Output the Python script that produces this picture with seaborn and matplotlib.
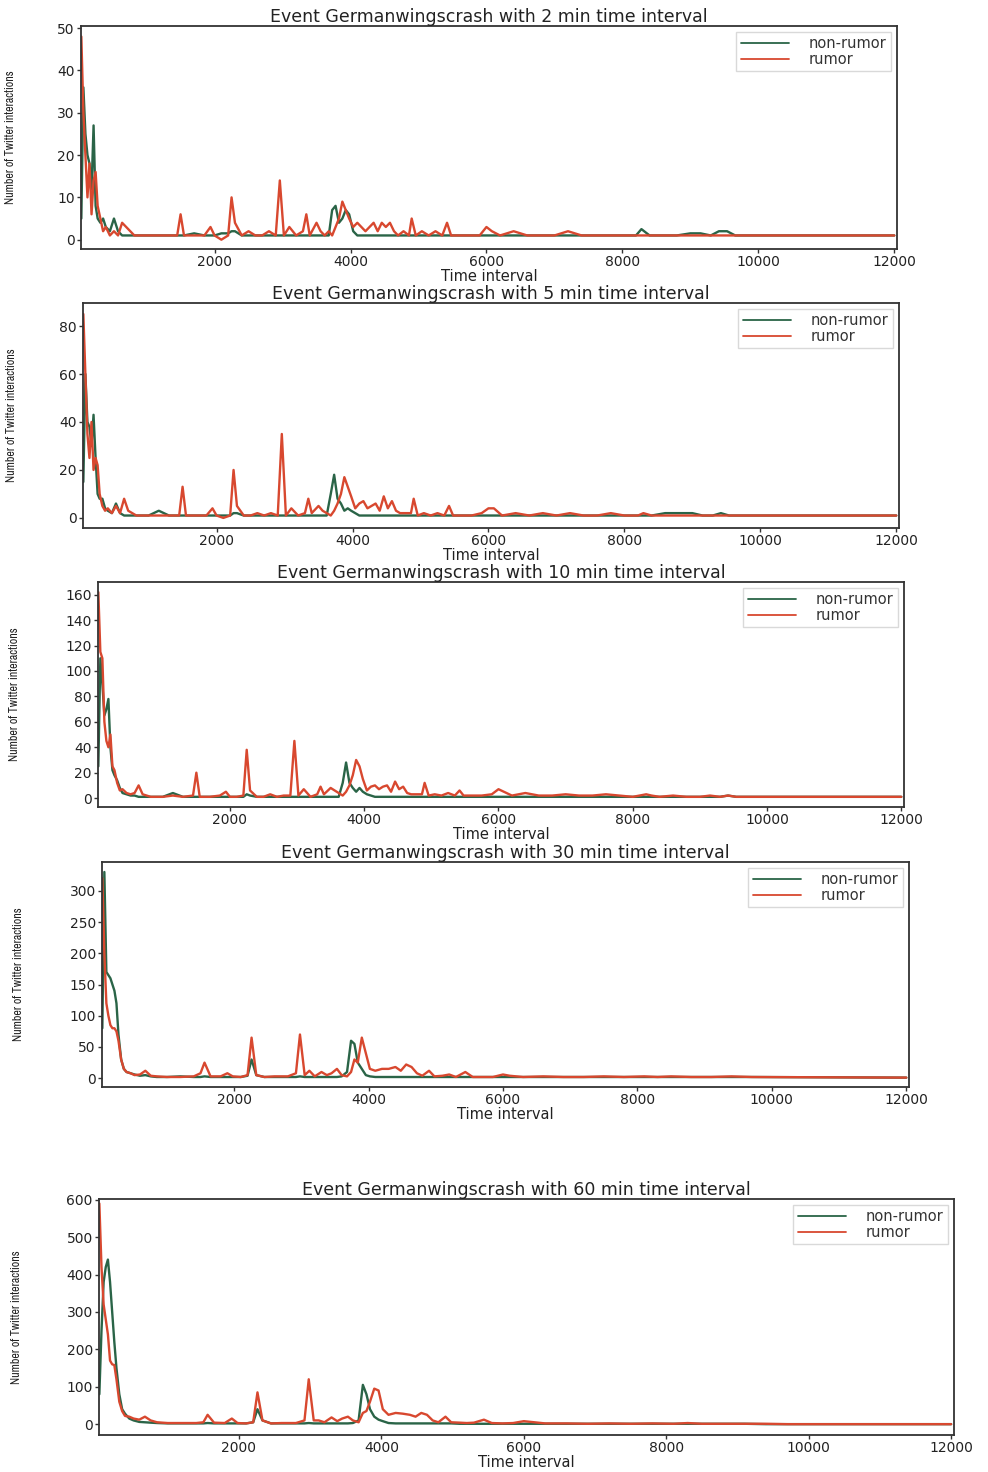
import matplotlib
matplotlib.use("Agg")
import matplotlib.pyplot as plt
import seaborn as sns
import pandas as pd
from matplotlib import font_manager

# ---------------- data ----------------
intervals = [2, 5, 10, 30, 60]
series_names = ["non-rumor", "rumor"]
xtick_values = [2000, 4000, 6000, 8000, 10000, 12000]

# sample grid for the 2 / 5 / 10 minute panels
t_fine = [40, 70, 100, 130, 160, 190, 220, 250, 280, 320, 360, 400,
          460, 520, 580, 640, 700, 760, 820, 900, 1000,
          1150, 1300, 1450, 1500, 1550, 1700, 1850, 1940, 2000,
          2100, 2200, 2250, 2300, 2400, 2500, 2600, 2700, 2800, 2900, 2960, 3020,
          3100, 3200, 3300, 3350, 3400, 3500, 3560, 3620, 3680, 3730, 3780, 3830, 3880, 3930, 3980,
          4040, 4100, 4160, 4220, 4280, 4340, 4400, 4460, 4520, 4580, 4640, 4700, 4780, 4860, 4900, 4960,
          5050, 5150, 5250, 5350, 5420, 5480, 5600, 5750, 5900, 6000, 6080,
          6200, 6400, 6600, 6800, 7000, 7200, 7400, 7600, 7800, 8000, 8200, 8280, 8400, 8600, 8800,
          9000, 9150, 9300, 9420, 9540, 9660, 12000]

rumor_2 = [48, 30, 20, 10, 18, 6, 14, 16, 8, 5, 2, 3,
           1, 2, 1, 4, 3, 2, 1, 1, 1,
           1, 1, 1, 6, 1, 1, 1, 3, 1,
           0, 1, 10, 4, 1, 2, 1, 1, 2, 1, 14, 1,
           3, 1, 2, 6, 1, 4, 2, 1, 2, 1, 3, 5, 9, 7, 5,
           3, 4, 3, 2, 3, 4, 2, 4, 3, 4, 2, 1, 2, 1, 5, 1,
           2, 1, 2, 1, 4, 1, 1, 1, 1, 3, 2,
           1, 2, 1, 1, 1, 2, 1, 1, 1, 1, 1, 1, 1, 1, 1,
           1, 1, 1, 1, 1, 1, 1]
nonrumor_2 = [5, 36, 25, 20, 18, 12, 27, 8, 5, 4, 5, 3,
              2, 5, 2, 1, 1, 1, 1, 1, 1,
              1, 1, 1, 1, 1, 1.5, 1, 1, 1,
              1.5, 1.5, 2, 2, 1, 1, 1, 1, 1, 1, 1, 1,
              1, 1, 1, 1, 1, 1, 1, 1, 1, 7, 8, 4, 5, 7, 6,
              2, 1, 1, 1, 1, 1, 1, 1, 1, 1, 1, 1, 1, 1, 1, 1,
              1, 1, 1, 1, 1, 1, 1, 1, 1, 1, 1,
              1, 1, 1, 1, 1, 1, 1, 1, 1, 1, 1, 2.5, 1, 1, 1,
              1.5, 1.5, 1, 2, 2, 1, 1]

rumor_5 = [85, 60, 35, 25, 40, 20, 25, 22, 10, 5, 3, 4,
           2, 5, 2, 8, 3, 2, 1, 1, 1,
           1, 1, 1, 13, 1, 1, 1, 4, 1,
           0, 1, 20, 5, 1, 1, 2, 1, 2, 1, 35, 1,
           4, 1, 2, 8, 2, 5, 3, 2, 1, 3, 6, 10, 17, 13, 9,
           4, 6, 7, 4, 5, 6, 3, 9, 4, 7, 3, 2, 2, 2, 8, 1,
           2, 1, 2, 1, 5, 1, 1, 1, 2, 4, 4,
           1, 2, 1, 2, 1, 2, 1, 1, 2, 1, 1, 2, 1, 1, 1,
           1, 1, 1, 1, 1, 1, 1]
nonrumor_5 = [15, 60, 40, 38, 30, 43, 25, 10, 8, 8, 4, 3,
              2, 6, 2, 1, 1, 1, 1, 1, 1,
              3, 1, 1, 1, 1, 1, 1, 1, 1,
              1, 1, 2, 2, 1, 1, 1, 1, 1, 1, 1, 1,
              1, 1, 1, 1, 1, 1, 1, 1, 10, 18, 8, 6, 3, 4, 3,
              2, 1, 1, 1, 1, 1, 1, 1, 1, 1, 1, 1, 1, 1, 1, 1,
              1, 1, 1, 1, 1, 1, 1, 1, 1, 1, 1,
              1, 1, 1, 1, 1, 1, 1, 1, 1, 1, 1, 1, 1, 2, 2,
              2, 1, 1, 2, 1, 1, 1]

rumor_10 = [162, 115, 110, 60, 45, 40, 50, 25, 22, 12, 6, 7,
            4, 3, 4, 10, 3, 2, 1, 1, 1,
            2, 1, 2, 20, 1, 1, 2, 5, 1,
            1, 2, 38, 6, 1, 1, 3, 1, 2, 2, 45, 2,
            7, 1, 3, 9, 3, 8, 6, 4, 2, 5, 10, 18, 30, 25, 15,
            6, 9, 10, 7, 9, 10, 5, 13, 7, 9, 4, 3, 3, 3, 12, 2,
            3, 2, 4, 2, 6, 2, 2, 2, 3, 7, 5,
            2, 4, 2, 2, 3, 2, 2, 3, 2, 1, 3, 2, 1, 2, 1,
            1, 2, 1, 2, 1, 1, 1]
nonrumor_10 = [25, 110, 90, 65, 70, 78, 40, 22, 18, 14, 8, 4,
               3, 2, 2, 1, 1, 1, 1, 1, 1,
               4, 1, 1, 1, 1, 1, 1, 1, 1,
               1, 1, 3, 2, 1, 1, 1, 1, 1, 1, 1, 1,
               1, 1, 1, 1, 1, 1, 1, 1, 12, 28, 12, 8, 5, 8, 5,
               3, 2, 1, 1, 1, 1, 1, 1, 1, 1, 1, 1, 1, 1, 1, 1,
               1, 1, 1, 1, 1, 1, 1, 1, 1, 1, 1,
               1, 1, 1, 1, 1, 1, 1, 1, 1, 1, 1, 1, 1, 1, 1,
               1, 1, 1, 2, 1, 1, 1]

# sample grid for the 30 / 60 minute panels
t_coarse = [40, 70, 100, 130, 160, 190, 220, 250, 280, 320, 360, 400,
            460, 520, 600, 680, 760, 850, 1000, 1200, 1400,
            1500, 1560, 1650, 1800, 1900, 1980, 2100, 2200, 2260, 2330, 2450,
            2600, 2800, 2920, 2980, 3050, 3120, 3200, 3300, 3380, 3450, 3530, 3600, 3680,
            3740, 3790, 3840, 3900, 3960, 4020, 4100, 4200, 4300, 4400, 4480, 4560, 4640, 4720, 4800,
            4900, 4980, 5100, 5200, 5300, 5440, 5550, 5700, 5850, 6000, 6100,
            6300, 6600, 6900, 7200, 7500, 7800, 8100, 8300, 8500, 8800, 9100, 9400, 9700, 12000]

rumor_30 = [320, 200, 120, 100, 85, 80, 80, 75, 60, 30, 15, 10,
            8, 5, 6, 12, 4, 3, 2, 2, 3,
            8, 25, 3, 3, 8, 3, 2, 5, 65, 5, 2,
            3, 3, 8, 70, 5, 12, 3, 10, 5, 8, 15, 5, 3,
            10, 30, 25, 65, 40, 15, 12, 15, 15, 18, 12, 22, 18, 8, 4,
            12, 3, 4, 6, 2, 10, 2, 2, 2, 6, 4,
            2, 3, 2, 2, 3, 2, 3, 2, 3, 2, 2, 3, 2, 1]
nonrumor_30 = [80, 330, 170, 165, 160, 150, 140, 120, 70, 30, 15, 10,
               8, 6, 4, 5, 3, 2, 2, 3, 2,
               2, 3, 2, 2, 2, 2, 2, 4, 30, 5, 2,
               2, 2, 2, 3, 2, 2, 2, 2, 2, 2, 2, 3, 10,
               60, 55, 25, 15, 5, 3, 2, 2, 2, 2, 2, 2, 2, 2, 2,
               2, 2, 2, 2, 2, 2, 2, 2, 2, 2, 2,
               2, 2, 2, 2, 2, 2, 2, 2, 2, 2, 2, 2, 2, 1]

rumor_60 = [590, 420, 320, 280, 240, 170, 160, 158, 120, 60, 35, 22,
            20, 15, 12, 20, 10, 5, 3, 3, 3,
            5, 25, 4, 3, 15, 3, 2, 5, 85, 10, 2,
            3, 3, 10, 120, 10, 10, 5, 18, 8, 15, 20, 10, 5,
            30, 35, 60, 95, 90, 40, 25, 30, 28, 25, 20, 30, 25, 10, 5,
            20, 5, 4, 3, 4, 12, 3, 2, 3, 8, 6,
            2, 2, 1, 2, 1, 2, 1, 3, 1, 1, 1, 1, 0, 0]
nonrumor_60 = [80, 250, 380, 420, 440, 380, 300, 220, 150, 80, 40, 28,
               15, 10, 6, 5, 4, 3, 2, 2, 2,
               2, 3, 2, 2, 2, 2, 2, 5, 40, 10, 2,
               2, 2, 2, 3, 2, 2, 2, 2, 2, 2, 2, 3, 10,
               105, 80, 40, 20, 12, 8, 3, 2, 2, 2, 2, 2, 2, 2, 2,
               2, 2, 1, 1, 1, 1, 1, 1, 1, 1, 1,
               1, 1, 1, 1, 1, 1, 1, 1, 1, 1, 1, 0, 0, 0]

ytick_sets = [[0, 10, 20, 30, 40, 50],
              [0, 20, 40, 60, 80],
              [0, 20, 40, 60, 80, 100, 120, 140, 160],
              [0, 50, 100, 150, 200, 250, 300],
              [0, 100, 200, 300, 400, 500, 600]]

# ---------------- styling / layout ----------------
sns.set_theme(style="ticks")
plt.rcParams["font.family"] = ["DejaVu Sans"]

# pick a condensed face for the y label if one is installed
ylab_kw = {"family": ["DejaVu Sans"], "fontsize": 7.0}
for f in font_manager.fontManager.ttflist:
    if "Narrow" in f.name or "Condensed" in f.name:
        ylab_kw = {"family": [f.name, "DejaVu Sans"], "fontsize": 8.6}
        break
    if f.name == "DejaVu Sans" and str(f.stretch) in ("condensed", "semi-condensed", "600"):
        ylab_kw = {"family": ["DejaVu Sans"], "fontsize": 8.0, "fontstretch": "condensed"}

palette = {"non-rumor": "#2a6447", "rumor": "#d8482f"}

W, H = 988, 1472
# (left, top, width, height) in pixels, ylim, ylabel x pixel
layout = [
    ((81, 26, 816, 223), (-2.2, 50.5), 16),
    ((83, 303, 816, 225), (-4.2, 89.6), 17),
    ((98, 582, 806, 225), (-7.0, 170.0), 20),
    ((102, 862, 807, 225), (-14.0, 346.0), 24),
    ((99, 1199, 855, 236), (-29.0, 602.0), 22),
]

grids = [t_fine, t_fine, t_fine, t_coarse, t_coarse]
rumors = [rumor_2, rumor_5, rumor_10, rumor_30, rumor_60]
nonrumors = [nonrumor_2, nonrumor_5, nonrumor_10, nonrumor_30, nonrumor_60]

fig = plt.figure(figsize=(W / 100, H / 100), dpi=100)
fig.patch.set_facecolor("white")

for i, interval in enumerate(intervals):
    (lx, ty, wd, ht), ylim, ylab_px = layout[i]
    ax = fig.add_axes([lx / W, 1 - (ty + ht) / H, wd / W, ht / H])
    t = grids[i]
    df = pd.DataFrame({
        "t": list(t) + list(t),
        "count": list(nonrumors[i]) + list(rumors[i]),
        "series": ["non-rumor"] * len(t) + ["rumor"] * len(t),
    })
    sns.lineplot(data=df, x="t", y="count", hue="series", hue_order=series_names,
                 palette=palette, estimator=None, errorbar=None, sort=False,
                 linewidth=1.7, ax=ax)
    ax.set_xlim(35, 12040)
    ax.set_ylim(*ylim)
    ax.set_xticks(xtick_values)
    ax.set_yticks(ytick_sets[i])
    ax.tick_params(axis="both", direction="out", length=3, width=1, pad=1.5,
                   colors="#333333", labelsize=10, labelcolor="#222222")
    for sp in ax.spines.values():
        sp.set_visible(True)
        sp.set_color("#333333")
        sp.set_linewidth(1.3)
    ax.set_title(f"Event Germanwingscrash with {interval} min time interval",
                 fontsize=12.5, color="#222222", pad=1)
    ax.set_xlabel("Time interval", fontsize=10.5, color="#222222", labelpad=0)
    ax.set_ylabel("Number of Twitter interactions", color="#222222", **ylab_kw)
    ax.yaxis.set_label_coords((ylab_px - lx) / wd, 0.5)
    handles, labels = ax.get_legend_handles_labels()
    if ax.get_legend() is not None:
        ax.get_legend().remove()
    leg = ax.legend(handles, labels, loc="upper right", fontsize=10.5,
                    handlelength=3.3, labelspacing=0.05, handletextpad=1.4,
                    borderpad=0.3, borderaxespad=0.4, frameon=True,
                    fancybox=False, edgecolor="#d0d0d0")
    for line in leg.get_lines():
        line.set_linewidth(1.3)
    for txt in leg.get_texts():
        txt.set_color("#333333")

fig.savefig("out.png", dpi=100, facecolor="white")
